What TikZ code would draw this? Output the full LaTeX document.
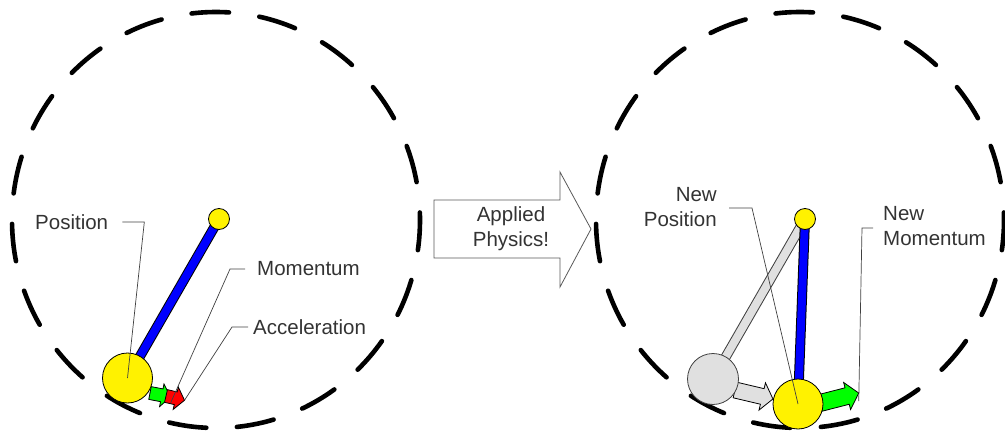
\documentclass[tikz,border=0pt]{standalone}
\usepackage{fontspec}
\setmainfont{Liberation Sans}
\newcommand\blockarr[8]{% #1 start, #2 angle, #3 length, #4 shaft half, #5 head half, #6 head length, #7 fill, #8 tip name
  \draw[outl, fill=#7, shift={#1}, rotate=#2] (0,-#4) -- ({#3-#6},-#4) -- ({#3-#6},-#5) -- (#3,0) coordinate (#8) -- ({#3-#6},#5) -- ({#3-#6},#4) -- (0,#4) -- cycle;}
\begin{document}
\begin{tikzpicture}[x=1pt,y=1pt,
  orbit/.style={line width=4.6pt, line cap=round, dash pattern=on 37.5pt off 30.62pt, dash phase=30pt},
  ball/.style={circle, draw=black, line width=0.8pt, fill=yellow, minimum size=#1, inner sep=0pt},
  ghost/.style={circle, draw=black!75, line width=0.8pt, fill=black!12, minimum size=#1, inner sep=0pt},
  lbl/.style={font=\fontsize{20.5}{25}\selectfont, text=black!80, inner sep=0pt},
  leader/.style={draw=black!75, line width=0.7pt},
  outl/.style={draw=black, line width=0.8pt},
  bigarrow/.style={draw=black!65, line width=0.8pt, fill=white},
]
\useasboundingbox (0,0) rectangle (1005,-436);

% orbits
\draw[orbit] (216,-220) ellipse [x radius=204, y radius=208];
\draw[orbit] (800,-220) ellipse [x radius=204, y radius=208];

% ---------- left pendulum ----------
\coordinate (pL) at (127.5,-378);
\coordinate (qL) at (219,-219);
\draw[line width=10pt] (pL) -- (qL);
\draw[line width=8pt, blue] (pL) -- (qL);
\blockarr{(150,-393)}{-11}{21}{6.5}{11.5}{9}{green}{tipG}
\blockarr{(166,-396)}{-13}{19}{6.5}{11.5}{9}{red}{tipR}
\node[ball=50pt] (bigL) at (pL) {};
\node[ball=21pt] (smallL) at (qL) {};

\node[lbl, anchor=west] (tPos) at (35,-222) {Position};
\node[lbl, anchor=west] (tMom) at (257,-269) {Momentum};
\node[lbl, anchor=west] (tAcc) at (253,-327) {Acceleration};

% ---------- middle arrow ----------
\draw[bigarrow] (434,-200) -- (560,-200) -- (560,-172) -- (591,-229) -- (560,-287) -- (560,-258) -- (434,-258) -- cycle;
\node[lbl, align=center] (tAP) at (511,-229) {Applied\\Physics!};

% ---------- right pendulum ----------
\coordinate (pR) at (798,-404);
\coordinate (qR) at (805,-219);
\coordinate (gR) at (713,-379);
\draw[line width=10pt, black!75] (gR) -- (qR);
\draw[line width=8pt, black!12] (gR) -- (qR);
\blockarr{(735,-390)}{-13.3}{39}{8}{14}{11}{black!12}{tipGray}
\node[ghost=51pt] (ghostR) at (gR) {};
\draw[line width=10pt] (pR) -- (qR);
\draw[line width=8pt, blue] (pR) -- (qR);
\blockarr{(820,-403)}{14.4}{40}{8.5}{14}{12}{green}{tipG2}
\node[ball=50pt] (bigR) at (pR) {};
\node[ball=21pt] (smallR) at (qR) {};

\node[lbl, anchor=east, align=right] (tNP) at (717,-207.5) {New\\Position};
\node[lbl, anchor=west, align=left] (tNM) at (883,-226.5) {New\\Momentum};

% ---------- leaders ----------
\draw[leader] ([xshift=14pt]tPos.east) -- ++(22,0) -- (bigL.center);
\draw[leader] ([xshift=-12pt]tMom.west) -- ++(-15,0) -- ([yshift=-6pt]tipG);
\draw[leader] ([xshift=-5pt]tAcc.west) -- ++(-16,0) -- (tipR);
\draw[leader] ([xshift=12pt,yshift=-0.5pt]tNP.east) -- ++(23,0) -- (bigR.center);
\draw[leader] ([xshift=-10pt,yshift=-1.5pt]tNM.west) -- ++(-11,0) -- ([yshift=-8pt]tipG2);
\end{tikzpicture}
\end{document}
